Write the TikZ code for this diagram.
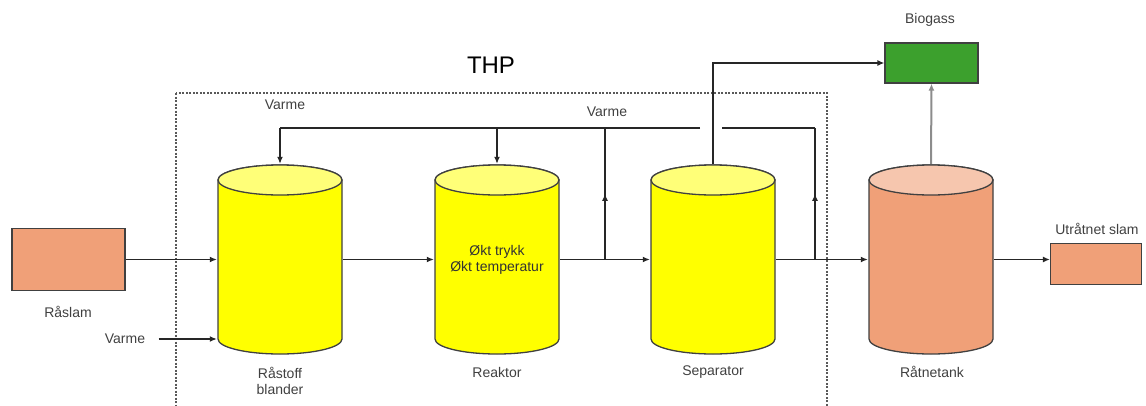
\documentclass[tikz,border=0pt]{standalone}
\usepackage{fontspec}
\setmainfont{Liberation Sans}
\usetikzlibrary{arrows.meta, decorations.markings, positioning}

\definecolor{tankyellow}{RGB}{255,255,0}
\definecolor{tanktop}{RGB}{255,255,120}
\definecolor{sludge}{RGB}{240,160,120}
\definecolor{sludgetop}{RGB}{246,198,174}
\definecolor{gasgreen}{RGB}{60,160,45}

\begin{document}
\begin{tikzpicture}
    [
        x=1pt, y=-1pt,
        font=\fontsize{14}{16}\selectfont,
        tank/.style 2 args = {
            rectangle, inner sep=0pt, minimum width=126pt, minimum height=191pt,
            align=center, text=black!80,
            path picture={
                \filldraw[fill=#1, draw=black!75, line width=1.3pt]
                    ([shift={(1pt,-16pt)}]path picture bounding box.north west)
                    -- ([shift={(1pt,16pt)}]path picture bounding box.south west)
                    arc[start angle=180, end angle=360, x radius=62pt, y radius=15pt]
                    -- ([shift={(-1pt,-16pt)}]path picture bounding box.north east)
                    arc[start angle=0, end angle=180, x radius=62pt, y radius=15pt] -- cycle;
                \filldraw[fill=#2, draw=black!75, line width=1.3pt]
                    ([yshift=-16pt]path picture bounding box.north) ellipse [x radius=62pt, y radius=15pt];
                }
            },
        box/.style = {
            rectangle, draw=black!75, line width=1.3pt, inner sep=0pt
            },
        pipe/.style = {
            line width=1.3pt, black!85
            },
        flow/.style = {
            pipe, -{Latex[length=7pt,width=6pt]}
            },
        midarrow/.style = {
            pipe, decoration={markings, mark=at position 0.5 with {\arrow{Latex[length=7pt,width=6pt]}}},
            postaction={decorate}
            },
        caption/.style = {
            text=black!75, align=center
            },
    ]
    \useasboundingbox (0,0) rectangle (1146,405);
    %THP frame
    \draw[black!65, line width=1.6pt, dash pattern=on 2pt off 1.5pt] (176,93) rectangle (827,440);
    \node (thp) at (491,65) {\fontsize{24}{28}\selectfont THP};
    %nodes
    \node[box, fill=sludge, minimum width=113pt, minimum height=62pt] (raslam) at (68.5,259.5) {};
    \node[caption] (raslamlbl) at (68,312) {Råslam};
    \node[tank={tankyellow}{tanktop}] (blander) at (280,259.5) {};
    \node[caption] (blanderlbl) at (280,381) {Råstoff\\blander};
    \node[tank={tankyellow}{tanktop}] (reaktor) at (497,259.5) {Økt trykk\\Økt temperatur};
    \node[caption] (reaktorlbl) at (497,372) {Reaktor};
    \node[tank={tankyellow}{tanktop}] (separator) at (713,259.5) {};
    \node[caption] (separatorlbl) at (713,372) {Separator};
    \node[tank={sludge}{sludgetop}] (ratnetank) at (931,259.5) {};
    \node[caption] (ratnetanklbl) at (932,372) {Råtnetank};
    \node[box, fill=gasgreen, minimum width=93pt, minimum height=40pt] (biogass) at (931.5,63) {};
    \node[caption] (biogasslbl) at (930,20) {Biogass};
    \node[box, fill=sludge, minimum width=91pt, minimum height=41pt] (utslam) at (1096,264) {};
    \node[caption] (utslamlbl) at (1097,229) {Utråtnet slam};
    \node[caption] (varmein) at (125,339) {Varme};
    \node[caption] (varmetop) at (285,105) {Varme};
    \node[caption] (varmeret) at (607,112) {Varme};
    \coordinate (split) at (605,259.5);
    \coordinate (splittop) at (605,128);
    \coordinate (ret) at (815,259.5);
    \coordinate (rettop) at (815,128);
    \coordinate (gapl) at (700,128);
    \coordinate (gapr) at (722,128);
    %connecting nodes
    \draw[flow] (raslam.east) -- (blander.west);
    \draw[flow] ([xshift=10pt]varmein.east) -- (varmein.east -| blander.west);
    \draw[flow] (blander.east) -- (reaktor.west);
    \draw[flow] (reaktor.east) -- (separator.west);
    \draw[flow] (separator.east) -- (ratnetank.west);
    \draw[flow] (ratnetank.east) -- (ratnetank.east -| utslam.west);
    \draw[midarrow] (split) -- (splittop);
    \draw[pipe] (gapl) -- (splittop) -- (blander.north |- splittop);
    \draw[flow] (blander.north |- splittop) -- (blander.north);
    \draw[flow] (reaktor.north |- splittop) -- (reaktor.north);
    \draw[midarrow] (ret) -- (rettop);
    \draw[pipe] (rettop) -- (gapr);
    \draw[flow] (separator.north) |- (biogass.west);
    \draw[flow, black!45, line width=2pt] (ratnetank.north) -- (biogass.south);
\end{tikzpicture}
\end{document}
